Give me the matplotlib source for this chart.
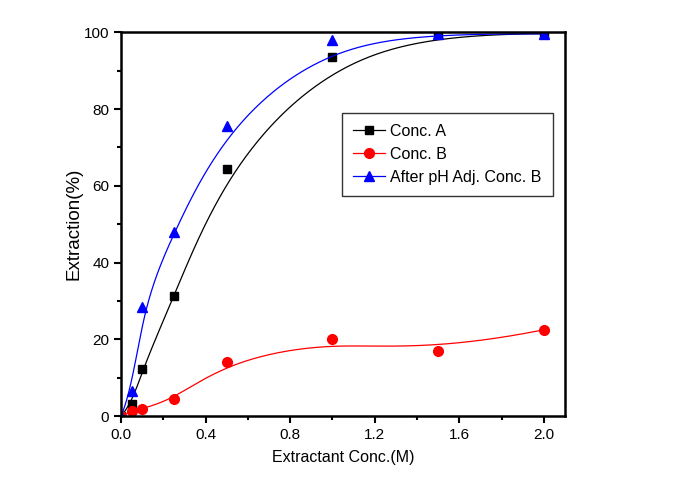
import numpy as np
import matplotlib
matplotlib.use("Agg")
import matplotlib.pyplot as plt
from matplotlib.ticker import MultipleLocator

plt.rcParams['font.family'] = ['Liberation Sans', 'DejaVu Sans']

conc = [0.0, 0.05, 0.1, 0.25, 0.5, 1.0, 1.5, 2.0]
conc_a = [0.0, 3.2, 12.2, 31.2, 64.5, 93.5, 99.5, 99.6]
conc_b = [0.0, 1.3, 1.9, 4.5, 14.0, 20.0, 17.0, 22.5]
adj_b = [0.0, 6.5, 28.5, 48.0, 75.5, 98.0, 99.6, 99.6]

labels = ["Conc. A", "Conc. B", "After pH Adj. Conc. B"]
colors = ["black", "red", "blue"]
markers = ["s", "o", "^"]
msizes = [6, 7, 7.5]


def bspline(xs, ys, deg=3, num=300):
    # clamped uniform B-spline, data points used as control points
    pts = np.column_stack([xs, ys]).astype(float)
    n = len(pts)
    inner = np.linspace(0, 1, n - deg + 1)
    knots = np.concatenate([[0] * deg, inner, [1] * deg])
    tt = np.linspace(0, 1 - 1e-9, num)
    out = []
    for t in tt:
        N = np.array([1.0 if knots[i] <= t < knots[i + 1] else 0.0
                      for i in range(len(knots) - 1)])
        for k in range(1, deg + 1):
            Nn = np.zeros(len(knots) - 1 - k)
            for i in range(len(Nn)):
                a = 0.0
                d1 = knots[i + k] - knots[i]
                if d1 > 0:
                    a += (t - knots[i]) / d1 * N[i]
                d2 = knots[i + k + 1] - knots[i + 1]
                if d2 > 0:
                    a += (knots[i + k + 1] - t) / d2 * N[i + 1]
                Nn[i] = a
            N = Nn
        out.append(N @ pts)
    out.append(pts[-1])
    out = np.array(out)
    return out[:, 0], out[:, 1]


fig = plt.figure(figsize=(6.8, 4.96), dpi=100)
ax = fig.add_axes([0.178, 0.161, 0.653, 0.774])

for ys, lab, c, m, ms in zip([conc_a, conc_b, adj_b], labels, colors, markers, msizes):
    cx, cy = bspline(conc, ys)
    ax.plot(cx, cy, color=c, lw=0.9)
    ax.plot(conc, ys, linestyle="none", marker=m, color=c, markersize=ms)
    ax.plot([], [], color=c, lw=0.9, marker=m, markersize=ms, label=lab)

ax.set_xlim(0, 2.1)
ax.set_ylim(0, 100)
ax.xaxis.set_major_locator(MultipleLocator(0.4))
ax.xaxis.set_minor_locator(MultipleLocator(0.2))
ax.yaxis.set_major_locator(MultipleLocator(20))
ax.yaxis.set_minor_locator(MultipleLocator(10))
ax.tick_params(which="major", direction="out", length=5, width=1.5, labelsize=11)
ax.tick_params(which="minor", direction="out", length=3, width=1.5)
for s in ax.spines.values():
    s.set_linewidth(1.8)

ax.set_xlabel("Extractant Conc.(M)", fontsize=11.5, labelpad=6)
ax.set_ylabel("Extraction(%)", fontsize=13.5, labelpad=1)

leg = ax.legend(loc="upper left", bbox_to_anchor=(0.498, 0.79), fontsize=11.5,
                frameon=True, fancybox=False, edgecolor="black",
                handlelength=2.0, borderpad=0.7, labelspacing=0.5,
                handletextpad=0.3, borderaxespad=0)
leg.get_frame().set_linewidth(1.0)

fig.savefig("out.png", dpi=100)
